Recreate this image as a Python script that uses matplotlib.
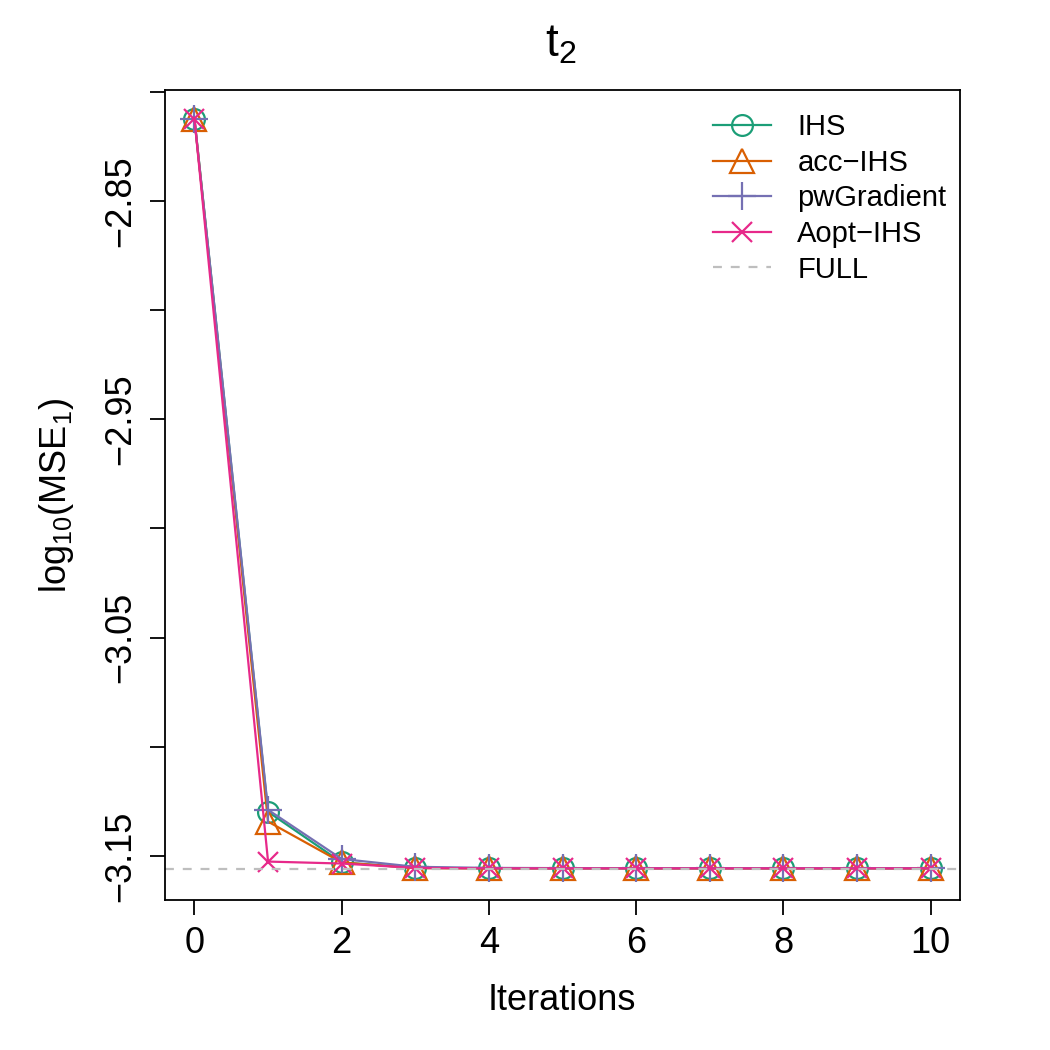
import numpy as np
import matplotlib
matplotlib.use('Agg')
import matplotlib.pyplot as plt
from matplotlib.ticker import FixedLocator, NullFormatter

plt.rcParams['font.family'] = ['Liberation Sans', 'DejaVu Sans']
plt.rcParams['mathtext.default'] = 'regular'

# data
iterations = np.arange(11)
ihs = [-2.8124, -3.1298, -3.1530, -3.1555, -3.1557, -3.1557, -3.1557, -3.1557, -3.1557, -3.1557, -3.1557]
acc_ihs = [-2.8124, -3.1343, -3.1530, -3.1556, -3.1557, -3.1557, -3.1557, -3.1557, -3.1557, -3.1557, -3.1557]
pw_gradient = [-2.8124, -3.1289, -3.1514, -3.1550, -3.1555, -3.1556, -3.1556, -3.1556, -3.1556, -3.1556, -3.1556]
aopt_ihs = [-2.8124, -3.1526, -3.1535, -3.1555, -3.1557, -3.1557, -3.1557, -3.1557, -3.1557, -3.1557, -3.1557]
full_level = -3.1561

series = [
    ("IHS", ihs, "#1B9E77", "o", 15),
    ("acc\u2212IHS", acc_ihs, "#D95F02", "^", 17),
    ("pwGradient", pw_gradient, "#7570B3", "+", 20),
    ("Aopt\u2212IHS", aopt_ihs, "#E7298A", "x", 14),
]

fig = plt.figure(figsize=(10.5, 10.5), dpi=100)
ax = fig.add_axes([165 / 1050, 150 / 1050, 795 / 1050, 810 / 1050])

for name, vals, col, mk, ms in series:
    ax.plot(iterations, vals, color=col, marker=mk, markersize=ms, markerfacecolor='none',
            markeredgewidth=1.6, linewidth=1.6, label=name)
ax.axhline(full_level, color="#BEBEBE", linestyle=(0, (4, 4)), linewidth=1.6, label="FULL")

ax.set_xlim(-0.4, 10.4)
ax.set_ylim(-3.1702, -2.7992)

ax.set_xticks([0, 2, 4, 6, 8, 10])
ax.yaxis.set_major_locator(FixedLocator([-2.85, -2.95, -3.05, -3.15]))
ax.yaxis.set_minor_locator(FixedLocator([-2.80, -2.90, -3.00, -3.10]))
ax.yaxis.set_minor_formatter(NullFormatter())
ax.tick_params(axis='both', which='both', direction='out', length=11, width=1.3, labelsize=26)
ax.tick_params(axis='x', pad=8)
ax.tick_params(axis='y', pad=8)
for lbl in ax.get_yticklabels():
    lbl.set_rotation(90)
    lbl.set_va('center')
for sp in ax.spines.values():
    sp.set_linewidth(1.3)

fig.text(561 / 1050, 1 - 45 / 1050, r"$t_2$", ha='center', va='center', fontsize=33)
fig.text(562 / 1050, 1 - 1000 / 1050, "Iterations", ha='center', va='center', fontsize=26)
fig.text(57 / 1050, 1 - 495 / 1050, r"$log_{10}(MSE_1)$", ha='center', va='center',
         rotation=90, fontsize=26)

ax.legend(loc='upper right', frameon=False, fontsize=21, handlelength=2.0,
          handletextpad=0.9, labelspacing=0.26, borderaxespad=0.2,
          bbox_to_anchor=(1.005, 0.993))

fig.savefig("out.png", dpi=100)
